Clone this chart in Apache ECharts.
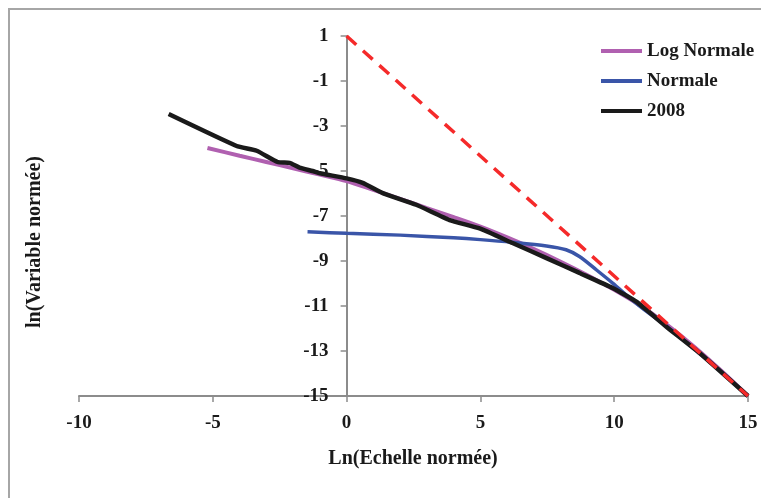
<!DOCTYPE html>
<html>
<head>
<meta charset="utf-8">
<script src="https://cdn.jsdelivr.net/npm/echarts@6/dist/echarts.min.js"></script>
<style>html,body{margin:0;padding:0;background:#fff;}#c{width:761px;height:498px;}</style>
</head>
<body>
<div id="c"></div>
<script>
var seriesNames = ['Log Normale', 'Normale', '2008'];
var logNormale = [[-5.2,-3.98],[-4,-4.32],[-3,-4.6],[-2,-4.88],[-1,-5.16],[0,-5.45],[1,-5.84],[2,-6.24],[3,-6.65],[4,-7.05],[5,-7.47],[6,-7.95],[7,-8.47],[8,-9.03],[9,-9.63],[10,-10.28],[11,-11.0],[12,-11.86],[13,-12.82],[14,-13.88],[15,-15]];
var normale = [[-1.46,-7.7],[0,-7.77],[2,-7.85],[4,-7.97],[5,-8.05],[6.2,-8.17],[7.47,-8.33],[8.2,-8.5],[8.7,-8.8],[9.34,-9.4],[9.94,-9.98],[10.58,-10.64],[11,-11.05],[12,-11.95],[13,-12.92],[14,-13.93],[15,-15]];
var serie2008 = [[-6.65,-2.47],[-4.11,-3.89],[-3.36,-4.1],[-2.58,-4.6],[-2.13,-4.64],[-1.76,-4.85],[-1.27,-5.0],[-1.0,-5.1],[0,-5.33],[0.6,-5.53],[1.35,-5.98],[2.6,-6.5],[3.85,-7.18],[4.97,-7.55],[6.2,-8.2],[7.47,-8.87],[8.7,-9.53],[9.94,-10.2],[10.84,-10.82],[11.96,-11.93],[13.19,-13.09],[15,-15]];
var reference = [[0,1],[15,-15]];
var xTicks = {min: -10, max: 15, interval: 5};
var yTicks = {min: -15, max: 1, interval: 2};
var xTitle = 'Ln(Echelle normée)';
var yTitle = 'ln(Variable normée)';

var font = 'Liberation Serif';
var W = 761, gridL = 79, gridR = 13;
var plotW = W - gridL - gridR;
// y axis crosses at x = 0
var yAxisOffset = -((0 - xTicks.min) / (xTicks.max - xTicks.min)) * plotW;

var chart = echarts.init(document.getElementById('c'), null, {renderer:'canvas'});
chart.setOption({
  animation: false,
  backgroundColor: '#fff',
  grid: {left: gridL, right: gridR, top: 36, bottom: 102, containLabel: false},
  legend: {
    orient: 'vertical', left: 601, top: 41, padding: 0,
    data: seriesNames,
    icon: 'rect', itemWidth: 41, itemHeight: 4, itemGap: 10, itemTextGap: 4,
    textStyle: {fontFamily: font, fontWeight: 'bold', fontSize: 19, color: '#1a1a1a', lineHeight: 20}
  },
  xAxis: {
    type: 'value', min: xTicks.min, max: xTicks.max, interval: xTicks.interval,
    axisLine: {onZero: false, lineStyle: {color: '#8c8c8c', width: 2}},
    axisTick: {show: true, length: 6, lineStyle: {color: '#8c8c8c', width: 1.5}},
    axisLabel: {fontFamily: font, fontWeight: 'bold', fontSize: 19, color: '#1a1a1a', margin: 18},
    splitLine: {show: false}
  },
  yAxis: {
    type: 'value', min: yTicks.min, max: yTicks.max, interval: yTicks.interval,
    position: 'left', offset: yAxisOffset,
    axisLine: {show: true, onZero: false, lineStyle: {color: '#8c8c8c', width: 2}},
    axisTick: {show: true, length: 6, lineStyle: {color: '#8c8c8c', width: 1.5}},
    axisLabel: {fontFamily: font, fontWeight: 'bold', fontSize: 19, color: '#1a1a1a', margin: 18},
    splitLine: {show: false}
  },
  graphic: [
    {type: 'rect', shape: {x: 9, y: 9, width: 800, height: 600}, style: {fill: 'none', stroke: '#a6a6a6', lineWidth: 2}, silent: true},
    {type: 'text', x: 413, y: 459, style: {text: xTitle, fontFamily: font, fontWeight: 'bold', fontSize: 20, fill: '#1a1a1a', textAlign: 'center', textVerticalAlign: 'middle'}},
    {type: 'text', x: 35, y: 242, rotation: Math.PI/2, style: {text: yTitle, fontFamily: font, fontWeight: 'bold', fontSize: 20, fill: '#1a1a1a', textAlign: 'center', textVerticalAlign: 'middle'}}
  ],
  series: [
    {name: seriesNames[0], type: 'line', data: logNormale, symbol: 'none', smooth: 0.3, color: '#b060b0', lineStyle: {width: 4, color: '#b060b0'}, z: 2},
    {name: seriesNames[1], type: 'line', data: normale, symbol: 'none', smooth: 0.3, color: '#3a55a8', lineStyle: {width: 3.5, color: '#3a55a8'}, z: 3},
    {name: seriesNames[2], type: 'line', data: serie2008, symbol: 'none', smooth: 0.15, color: '#1a1a1a', lineStyle: {width: 4.5, color: '#1a1a1a'}, z: 4},
    {name: 'ref', type: 'line', data: reference, symbol: 'none', color: '#f52a2a', lineStyle: {width: 3.5, color: '#f52a2a', type: [13, 9]}, z: 5}
  ]
});
</script>
</body>
</html>
